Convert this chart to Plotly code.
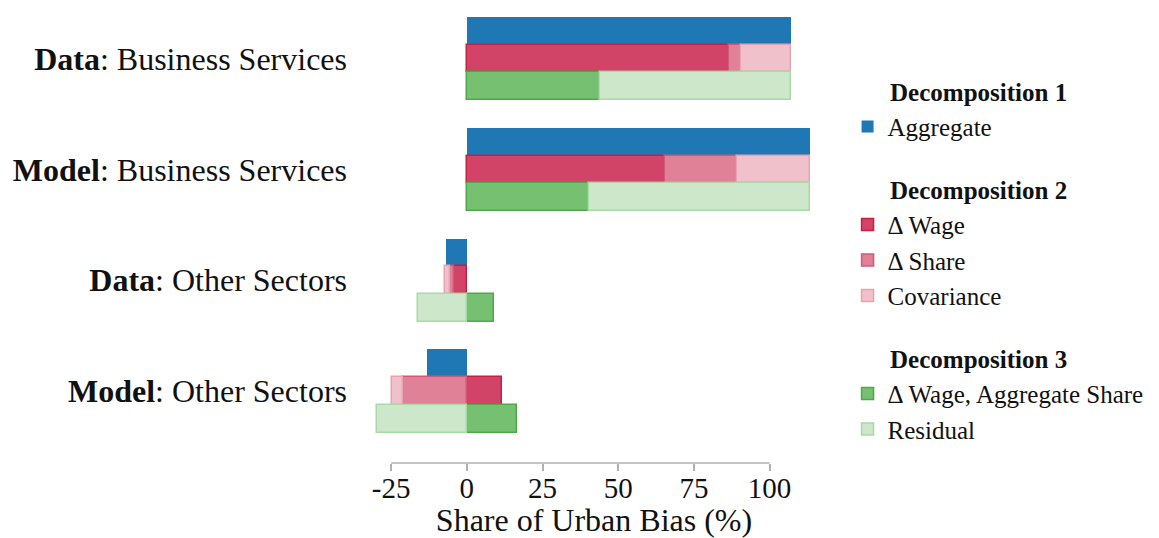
import plotly.graph_objects as go

groups = ["<b>Data</b>: Business Services", "<b>Model</b>: Business Services",
          "<b>Data</b>: Other Sectors", "<b>Model</b>: Other Sectors"]

aggregate = [107.1, 113.2, -7.0, -13.3]
d_wage = [86.5, 65.5, -4.1, 11.7]
d_share = [4.0, 23.6, -1.6, -21.2]
covariance = [16.6, 24.1, -1.4, -3.6]
wage_agg_share = [44.0, 40.4, 8.9, 16.5]
residual = [63.1, 72.8, -16.1, -29.7]

x_ticks = [-25, 0, 25, 50, 75, 100]

FONT = "Liberation Serif"
TXT = "#111111"
PAD = "\u00a0" * 6

# slot positions: each group = 3 bar rows + 1 gap row
n = len(groups)
y_agg = [4 * i for i in range(n)]
y_d2 = [4 * i + 1 for i in range(n)]
y_d3 = [4 * i + 2 for i in range(n)]

series = [
    ("Aggregate", aggregate, y_agg, "#1f77b4", "#1f77b4", "d1", "Decomposition 1"),
    ("Δ Wage", d_wage, y_d2, "#d14468", "#c81e44", "d2", "Decomposition 2"),
    ("Δ Share", d_share, y_d2, "#e08198", "#d4587a", "d2", None),
    ("Covariance", covariance, y_d2, "#f0c0cb", "#e8a3b3", "d2", None),
    ("Δ Wage, Aggregate Share", wage_agg_share, y_d3, "#76c071", "#4cab47", "d3", "Decomposition 3"),
    ("Residual", residual, y_d3, "#cce7ca", "#a9d9a5", "d3", None),
]

fig = go.Figure()
for name, vals, ys, fill, line, grp, gtitle in series:
    kw = {}
    if gtitle:
        kw["legendgrouptitle"] = dict(text=PAD + "<b>" + gtitle + "</b>",
                                      font=dict(size=25, family=FONT, color=TXT))
    fig.add_trace(go.Bar(
        x=vals, y=ys, orientation="h", name=name, width=1.0,
        marker=dict(color=fill, line=dict(color=line, width=1.5 if line != fill else 0)),
        legendgroup=grp, **kw,
    ))

fig.add_shape(type="line", xref="x", yref="paper", x0=x_ticks[0], x1=x_ticks[-1],
              y0=0, y1=0, line=dict(color="#b0b0b0", width=1.5))

fig.update_layout(
    width=1151, height=530,
    barmode="relative", bargap=0,
    plot_bgcolor="white", paper_bgcolor="white",
    margin=dict(l=362, r=341, t=9, b=75, autoexpand=False),
    font=dict(family=FONT, color=TXT),
    legend=dict(x=1.066, y=0.885, xanchor="left", yanchor="top",
                font=dict(size=25, family=FONT, color=TXT),
                traceorder="grouped", tracegroupgap=27, itemwidth=30),
    showlegend=True,
)
fig.update_xaxes(range=[-32, 116], tickvals=x_ticks, ticktext=[str(v) for v in x_ticks],
                 ticks="outside", ticklen=7, tickcolor="#b0b0b0", tickwidth=1.5,
                 showgrid=False, zeroline=False, showline=False, automargin=False,
                 ticklabelstandoff=-8,
                 tickfont=dict(size=29, family=FONT, color=TXT),
                 title=dict(text="Share of Urban Bias (%)", font=dict(size=32, family=FONT, color=TXT), standoff=3))
fig.update_yaxes(range=[15.6, -0.5], tickvals=y_d2, ticktext=groups,
                 showgrid=False, zeroline=False, showline=False, ticks="", automargin=False,
                 ticklabelstandoff=22,
                 tickfont=dict(size=32, family=FONT, color=TXT))

fig.write_html("out.html")
